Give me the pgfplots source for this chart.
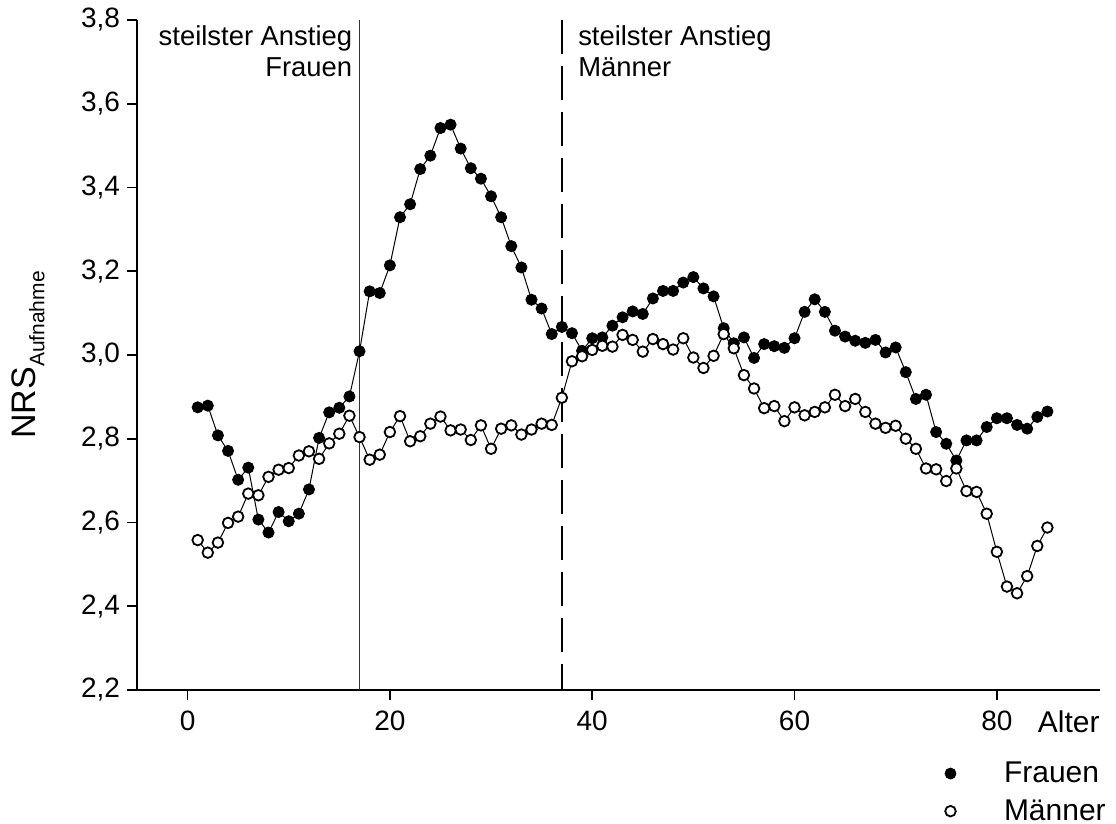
\documentclass[border=0pt]{standalone}
\usepackage{fontspec}
\setmainfont{Liberation Sans}
\usepackage{pgfplots}
\usepackage{pgfplotstable}
\pgfplotsset{compat=1.18}
\pgfplotstableread{
x y
1 2.875
2 2.879
3 2.808
4 2.771
5 2.702
6 2.731
7 2.607
8 2.576
9 2.625
10 2.603
11 2.621
12 2.679
13 2.802
14 2.863
15 2.874
16 2.901
17 3.009
18 3.152
19 3.148
20 3.214
21 3.329
22 3.360
23 3.444
24 3.476
25 3.542
26 3.550
27 3.493
28 3.446
29 3.421
30 3.379
31 3.329
32 3.260
33 3.209
34 3.132
35 3.111
36 3.050
37 3.067
38 3.052
39 3.010
40 3.040
41 3.042
42 3.070
43 3.090
44 3.104
45 3.098
46 3.135
47 3.153
48 3.153
49 3.173
50 3.186
51 3.159
52 3.140
53 3.064
54 3.028
55 3.042
56 2.993
57 3.026
58 3.021
59 3.017
60 3.040
61 3.103
62 3.133
63 3.103
64 3.058
65 3.044
66 3.034
67 3.029
68 3.036
69 3.006
70 3.018
71 2.959
72 2.895
73 2.905
74 2.816
75 2.788
76 2.748
77 2.796
78 2.796
79 2.828
80 2.849
81 2.849
82 2.833
83 2.824
84 2.852
85 2.865
}\frauen
\pgfplotstableread{
x y
1 2.558
2 2.528
3 2.552
4 2.599
5 2.614
6 2.669
7 2.665
8 2.709
9 2.726
10 2.730
11 2.760
12 2.770
13 2.752
14 2.789
15 2.812
16 2.855
17 2.804
18 2.750
19 2.762
20 2.816
21 2.854
22 2.794
23 2.806
24 2.836
25 2.853
26 2.820
27 2.822
28 2.797
29 2.832
30 2.776
31 2.824
32 2.832
33 2.810
34 2.822
35 2.836
36 2.833
37 2.898
38 2.985
39 2.997
40 3.012
41 3.022
42 3.020
43 3.048
44 3.036
45 3.008
46 3.038
47 3.026
48 3.013
49 3.040
50 2.994
51 2.969
52 2.998
53 3.050
54 3.016
55 2.952
56 2.920
57 2.873
58 2.878
59 2.842
60 2.875
61 2.856
62 2.864
63 2.875
64 2.905
65 2.878
66 2.895
67 2.864
68 2.836
69 2.826
70 2.831
71 2.800
72 2.776
73 2.729
74 2.727
75 2.699
76 2.729
77 2.675
78 2.673
79 2.621
80 2.530
81 2.447
82 2.431
83 2.472
84 2.544
85 2.588
}\maenner
\begin{document}
\begin{tikzpicture}
\useasboundingbox (-68.5pt,-67pt) rectangle (489.5pt,345pt);
\begin{axis}[
  at={(0,0)}, anchor=south west,
  scale only axis, width=481.5pt, height=335pt,
  xmin=-5, xmax=90.2, ymin=2.2, ymax=3.8,
  axis lines*=left,
  axis line style={line width=1pt},
  tick align=outside,
  major tick length=5pt,
  every tick/.style={black, line width=0.8pt},
  xtick={0,20,40,60,80},
  ytick={2.2,2.4,2.6,2.8,3.0,3.2,3.4,3.6,3.8},
  yticklabel style={/pgf/number format/fixed, /pgf/number format/fixed zerofill, /pgf/number format/precision=1, /pgf/number format/use comma},
  xticklabel style={yshift=-2pt},
  /pgf/number format/assume math mode=true,
  ticklabel style={font=\fontsize{14}{16}\selectfont},
  ylabel={\fontsize{17}{20}\selectfont NRS\raisebox{-4.5pt}{\fontsize{10.5}{12}\selectfont Aufnahme}},
  ylabel style={at={(axis description cs:-0.113,0.5)}, anchor=center, rotate=0},
  xlabel={Alter},
  xlabel style={at={(axis description cs:1,0)}, anchor=base east, yshift=-21.5pt, inner sep=0pt, font=\fontsize{15}{18}\selectfont},
  legend style={at={(axis description cs:1.0105,-0.1005)}, anchor=north east, draw=none, fill=none, inner sep=0pt, row sep=3pt, font=\fontsize{15}{18}\selectfont},
  legend cell align=left,
  clip=false,
]
\addplot[black!80, line width=0.9pt, forget plot] coordinates {(17,2.2) (17,3.8)};
\addplot[black, line width=0.7pt, dash pattern=on 17pt off 6pt, forget plot] coordinates {(37,3.8) (37,2.2)};
\addplot[black, line width=0.5pt, mark=*, mark size=2.75pt, mark options={solid, fill=black}, forget plot] table[x=x,y=y] {\frauen};
\addplot[black, line width=0.5pt, mark=*, mark size=2.65pt, mark options={solid, fill=white, line width=0.9pt}, forget plot] table[x=x,y=y] {\maenner};
\addlegendimage{only marks, mark=*, mark size=2.75pt, black, mark options={fill=black}}
\addlegendentry{\hspace{22pt}Frauen}
\addlegendimage{only marks, mark=*, mark size=2.65pt, black, mark options={fill=white, line width=0.9pt}}
\addlegendentry{\hspace{22pt}Männer}
\node[anchor=north east, align=right, inner sep=0pt, font=\fontsize{13.7}{15.5}\selectfont] at (axis cs:17,3.8) [xshift=-3.5pt, yshift=-2.5pt] {steilster Anstieg\\Frauen};
\node[anchor=north west, align=left, inner sep=0pt, font=\fontsize{13.7}{15.5}\selectfont] at (axis cs:37,3.8) [xshift=8pt, yshift=-2.5pt] {steilster Anstieg\\Männer};
\end{axis}
\end{tikzpicture}
\end{document}
